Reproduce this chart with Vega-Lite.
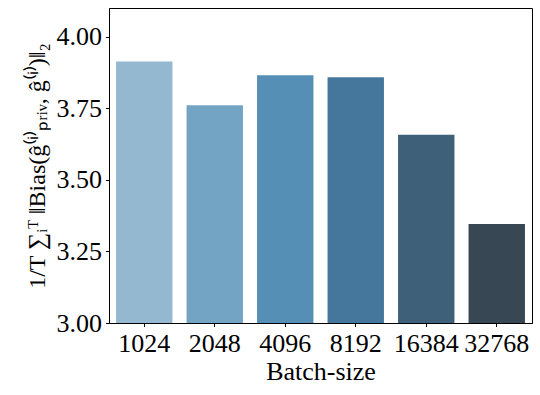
{
  "$schema": "https://vega.github.io/schema/vega-lite/v6.json",
  "width": 423,
  "height": 315,
  "autosize": "none",
  "padding": {"left": 109, "top": 8, "right": 8, "bottom": 72},
  "background": "white",
  "config": {
    "font": "Liberation Serif",
    "view": {"stroke": "black", "strokeWidth": 1},
    "axis": {
      "domainColor": "black",
      "tickColor": "black",
      "labelColor": "black",
      "titleColor": "black",
      "labelFont": "Liberation Serif",
      "titleFont": "Liberation Serif",
      "labelFontSize": 26,
      "titleFontWeight": "normal",
      "grid": false,
      "tickSize": 3.5,
      "labelPadding": 4
    }
  },
  "data": {
    "values": [
      {"batch": "1024", "bias": 3.913},
      {"batch": "2048", "bias": 3.760},
      {"batch": "4096", "bias": 3.865},
      {"batch": "8192", "bias": 3.858},
      {"batch": "16384", "bias": 3.657},
      {"batch": "32768", "bias": 3.346}
    ]
  },
  "mark": {"type": "bar", "clip": true},
  "encoding": {
    "x": {
      "field": "batch",
      "type": "nominal",
      "sort": null,
      "scale": {"paddingInner": 0.2, "paddingOuter": 0.1},
      "axis": {"labelAngle": 0, "title": "Batch-size", "titleFontSize": 26, "titlePadding": 2}
    },
    "y": {
      "field": "bias",
      "type": "quantitative",
      "scale": {"domain": [3.0, 4.1], "zero": false, "nice": false},
      "axis": {
        "values": [3.0, 3.25, 3.5, 3.75, 4.0],
        "format": ".2f",
        "title": "1/T ∑ᵢᵀ ‖Bias(ĝ⁽ⁱ⁾ₚᵣᵢᵥ, ĝ⁽ⁱ⁾)‖₂",
        "titleFontSize": 24,
        "titlePadding": 7
      }
    },
    "y2": {"datum": 3.0},
    "color": {
      "field": "batch",
      "type": "nominal",
      "sort": null,
      "scale": {
        "domain": ["1024", "2048", "4096", "8192", "16384", "32768"],
        "range": ["#95b8d1", "#74a4c3", "#568fb6", "#44779b", "#3e6079", "#374854"]
      },
      "legend": null
    }
  }
}
